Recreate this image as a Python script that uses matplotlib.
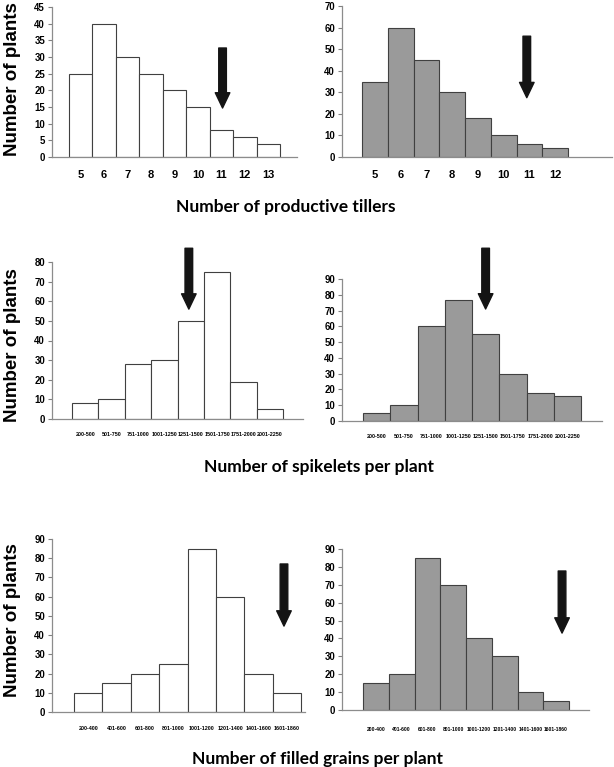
import matplotlib
matplotlib.use("Agg")
import matplotlib.pyplot as plt
from matplotlib import font_manager

# ---------------- data ----------------
tillers_cats_a = ["5", "6", "7", "8", "9", "10", "11", "12", "13"]
tillers_vals_a = [25, 40, 30, 25, 20, 15, 8, 6, 4]
tillers_cats_b = ["5", "6", "7", "8", "9", "10", "11", "12"]
tillers_vals_b = [35, 60, 45, 30, 18, 10, 6, 4]

spike_cats = ["200-500", "501-750", "751-1000", "1001-1250", "1251-1500",
              "1501-1750", "1751-2000", "2001-2250"]
spike_vals_a = [8, 10, 28, 30, 50, 75, 19, 5]
spike_vals_b = [5, 10, 60, 77, 55, 30, 18, 16]

grain_cats = ["200-400", "401-600", "601-800", "801-1000", "1001-1200",
              "1201-1400", "1401-1600", "1601-1860"]
grain_vals_a = [10, 15, 20, 25, 85, 60, 20, 10]
grain_vals_b = [15, 20, 85, 70, 40, 30, 10, 5]

# arrow markers: (x position in category units, arrow top, arrow tip)
arrow_tillers_a = (6.05, 32.7, 14.7)
arrow_tillers_b = (5.9, 56, 27.5)
arrow_spike_a = (3.93, 87, 56)
arrow_spike_b = (4.0, 109.5, 71)
arrow_grain_a = (6.9, 77, 44.7)
arrow_grain_b = (7.23, 77.7, 43)

names = {f.name for f in font_manager.fontManager.ttflist}
narrow = "Liberation Sans Narrow" if "Liberation Sans Narrow" in names else "Liberation Sans"
scale = 1.0 if narrow == "Liberation Sans Narrow" else 0.85

W, H = 614, 767
fig = plt.figure(figsize=(W / 100, H / 100), dpi=100)
fig.patch.set_facecolor("white")


def panel(px_left, px_right, px_top, px_bottom, bar_left, bar_right,
          cats, vals, ymax, ystep, fill, arrow, xfs, xfam, xpad):
    ax = fig.add_axes([px_left / W, 1 - px_bottom / H,
                       (px_right - px_left) / W, (px_bottom - px_top) / H])
    n = len(cats)
    bw = (bar_right - bar_left) / n
    lo = -0.5 - (bar_left - px_left) / bw
    hi = n - 0.5 + (px_right - bar_right) / bw
    x = list(range(n))
    ax.bar(x, vals, width=1.0, color=fill, edgecolor="#404040", linewidth=0.8,
           zorder=2)
    ax.set_xlim(lo, hi)
    ax.set_ylim(0, ymax)
    ax.set_yticks(list(range(0, ymax + 1, ystep)))
    ax.set_xticks(x)
    ax.set_xticklabels(cats, fontsize=xfs, family=xfam, weight="bold")
    for lab in ax.get_yticklabels():
        lab.set_fontsize(7.5 * (1.0 if xfam == narrow and scale == 1.0 else 0.93))
        lab.set_fontfamily(narrow)
        lab.set_fontweight("bold")
    ax.tick_params(axis="x", length=0, pad=xpad)
    ax.tick_params(axis="y", length=3, width=0.8, color="#808080", pad=2)
    for s in ("top", "right"):
        ax.spines[s].set_visible(False)
    for s in ("left", "bottom"):
        ax.spines[s].set_color("#8c8c8c")
        ax.spines[s].set_linewidth(0.9)
    ax.set_facecolor("none")
    ax_x, top, tip = arrow
    ax.annotate("", xy=(ax_x, tip), xytext=(ax_x, top),
                arrowprops=dict(arrowstyle="simple,head_length=1.1,head_width=1.05,tail_width=0.55",
                                color="#141414", mutation_scale=10,
                                shrinkA=0, shrinkB=0),
                annotation_clip=False, zorder=5)
    return ax


white = "white"
grey = "#9a9a9a"

panel(52, 297, 7, 157, 69, 280, tillers_cats_a, tillers_vals_a, 45, 5,
      white, arrow_tillers_a, 8, narrow, 9)
panel(342, 612, 6, 157, 362, 568, tillers_cats_b, tillers_vals_b, 70, 10,
      grey, arrow_tillers_b, 8, narrow, 9)
panel(52, 303, 262, 419, 72, 283, spike_cats, spike_vals_a, 80, 10,
      white, arrow_spike_a, 4.6 * scale, narrow, 9)
panel(342, 602, 279, 421, 363, 581, spike_cats, spike_vals_b, 90, 10,
      grey, arrow_spike_b, 4.6 * scale, narrow, 9)
panel(52, 305, 539, 712, 74, 301, grain_cats, grain_vals_a, 90, 10,
      white, arrow_grain_a, 4.6 * scale, narrow, 10)
panel(342, 589, 549, 710, 363, 569, grain_cats, grain_vals_b, 90, 10,
      grey, arrow_grain_b, 4.3 * scale, narrow, 12)

label_font = dict(family="Lato", weight="bold", fontsize=12.5, color="black")
fig.text(286 / W, 1 - 207 / H, "Number of productive tillers",
         ha="center", va="center", **label_font)
fig.text(319 / W, 1 - 467 / H, "Number of spikelets per plant",
         ha="center", va="center", **label_font)
fig.text(318 / W, 1 - 759 / H, "Number of filled grains per plant",
         ha="center", va="center", **label_font)

ylab_font = dict(family="Liberation Sans", weight="bold", fontsize=13.5,
                 color="black", rotation=90)
for yc in (79, 345, 620):
    fig.text(13 / W, 1 - yc / H, "Number of plants", ha="center", va="center",
             **ylab_font)

fig.savefig("out.png", dpi=100, facecolor="white")
